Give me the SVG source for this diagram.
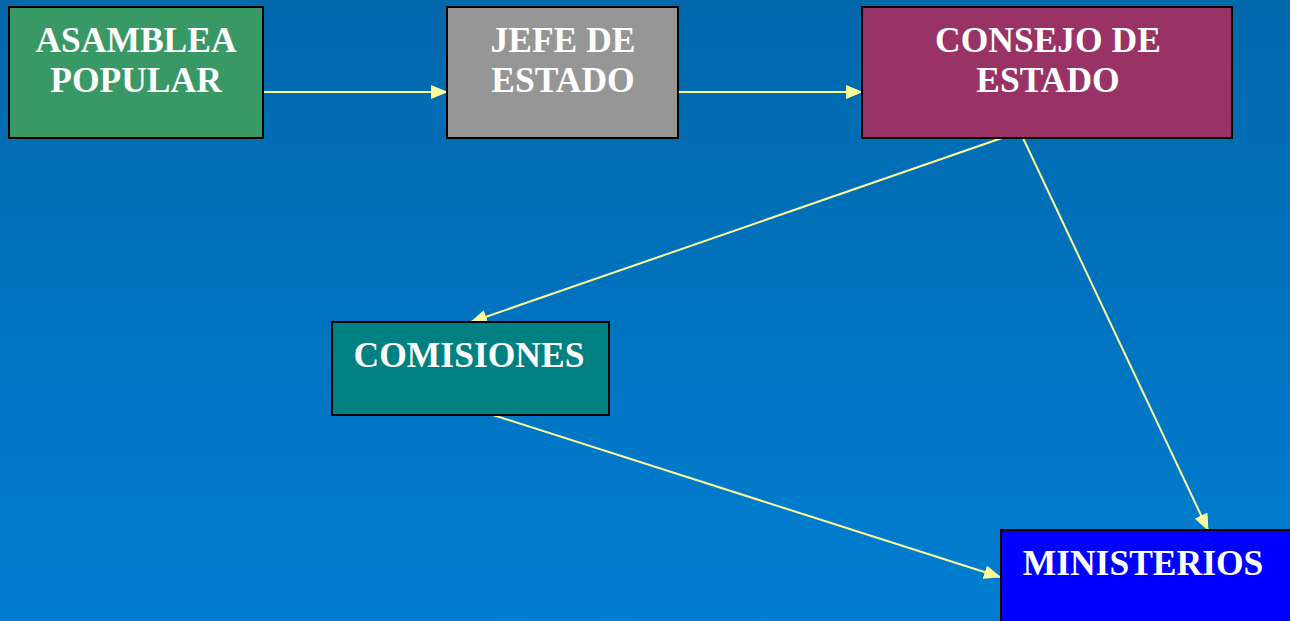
<svg xmlns="http://www.w3.org/2000/svg" width="1290" height="621" viewBox="0 0 1290 621">
  <defs>
    <linearGradient id="bg" x1="0" y1="0" x2="0" y2="1">
      <stop offset="0" stop-color="#0068AB"/>
      <stop offset="1" stop-color="#007ED2"/>
    </linearGradient>
    <radialGradient id="glow" cx="0.5" cy="0.5" r="0.5">
      <stop offset="0" stop-color="#1A9AEE" stop-opacity="0.9"/>
      <stop offset="1" stop-color="#0A88DC" stop-opacity="0"/>
    </radialGradient>
    <marker id="ah" markerWidth="17" markerHeight="14" refX="16" refY="7" orient="auto" markerUnits="userSpaceOnUse">
      <path d="M0,0 L17,7 L0,14 z" fill="#FFFF99"/>
    </marker>
    <style>
      .box { stroke: #000000; stroke-width: 2; }
      .lbl { font-family: "Liberation Serif", "Times New Roman", serif; font-weight: bold; font-size: 35.5px; fill: #FFFFFF; text-anchor: middle; }
      .conn { stroke: #FFFF99; stroke-width: 2; fill: none; marker-end: url(#ah); }
    </style>
  </defs>
  <rect x="0" y="0" width="1290" height="621" fill="url(#bg)"/>
  <ellipse cx="565" cy="632" rx="120" ry="14" fill="url(#glow)"/>

  <g id="connectors">
    <line class="conn" x1="263" y1="92" x2="447" y2="92"/>
    <line class="conn" x1="678" y1="92" x2="862" y2="92"/>
    <line class="conn" x1="1002" y1="138" x2="471" y2="322"/>
    <line class="conn" x1="1023" y1="138" x2="1208" y2="530"/>
    <line class="conn" x1="493" y1="415" x2="1000" y2="577"/>
  </g>

  <g id="asamblea">
    <rect class="box" x="9" y="7" width="254" height="131" fill="#389966"/>
    <text class="lbl" x="136" y="52">ASAMBLEA</text>
    <text class="lbl" x="136" y="92">POPULAR</text>
  </g>
  <g id="jefe">
    <rect class="box" x="447" y="7" width="231" height="131" fill="#969696"/>
    <text class="lbl" x="563" y="52">JEFE DE</text>
    <text class="lbl" x="563" y="92">ESTADO</text>
  </g>
  <g id="consejo">
    <rect class="box" x="862" y="7" width="370" height="131" fill="#993366"/>
    <text class="lbl" x="1048" y="52">CONSEJO DE</text>
    <text class="lbl" x="1048" y="92">ESTADO</text>
  </g>
  <g id="comisiones">
    <rect class="box" x="332" y="322" width="277" height="93" fill="#008080"/>
    <text class="lbl" x="469" y="367">COMISIONES</text>
  </g>
  <g id="ministerios">
    <rect class="box" x="1001" y="530" width="295" height="100" fill="#0000FF"/>
    <text class="lbl" x="1143" y="575">MINISTERIOS</text>
  </g>
</svg>
